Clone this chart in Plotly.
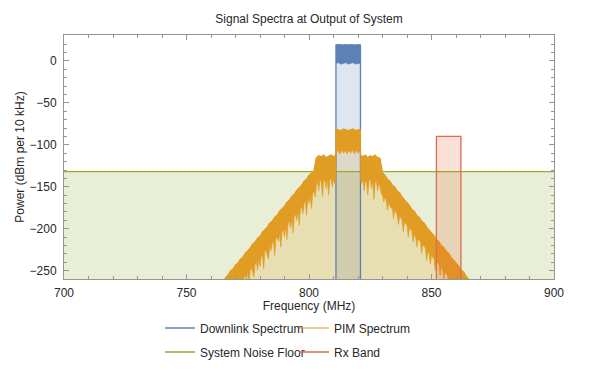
import plotly.graph_objects as go

# ---------------- data ----------------
freq_range = [700, 900]
power_range = [-260, 31]
fill_base = -300  # fills run down past the bottom of the frame

# Downlink spectrum (dense noisy band at the top of the carrier)
dl_freq = [811, 812, 813, 814, 815, 816, 817, 818, 819, 820, 821]
dl_upper = [19, 19.5, 19, 19, 19.5, 19, 19.5, 19, 19, 19.5, 19]
dl_lower = [-3, -2, -4, -3, -2, -4, -3, -2, -4, -3, -3]

# PIM spectrum: upper edge of the noisy orange band
pim_freq = [765, 766, 767, 768, 769, 770, 771, 772, 773, 774,
            775, 776, 777, 778, 779, 780, 781, 782, 783, 784,
            785, 786, 787, 788, 789, 790, 791, 792, 793, 794,
            795, 796, 797, 798, 799, 800, 801, 802, 803, 804,
            805, 806, 807, 808, 809, 810, 811, 811, 812, 813,
            814, 815, 816, 817, 818, 819, 820, 821, 821, 822,
            823, 824, 825, 826, 827, 828, 829, 830, 831, 832,
            833, 834, 835, 836, 837, 838, 839, 840, 841, 842,
            843, 844, 845, 846, 847, 848, 849, 850, 851, 852,
            853, 854, 855, 856, 857, 858, 859, 860, 861, 862,
            863, 864, 865, 866]
pim_upper = [-263, -258, -255, -250, -248, -243, -241, -236, -234, -229,
             -226, -223, -218, -216, -211, -209, -204, -201, -198, -193,
             -191, -186, -184, -179, -176, -173, -168, -166, -161, -159,
             -154, -151, -148, -143, -141, -136, -134, -131, -115, -113,
             -114, -112, -115, -113, -112, -114, -112, -82, -82, -83,
             -81, -82, -83, -82, -81, -83, -82, -82, -112, -114,
             -112, -115, -113, -114, -112, -115, -116, -133, -136, -141,
             -143, -148, -150, -155, -157, -162, -165, -169, -172, -177,
             -179, -184, -186, -191, -193, -198, -201, -205, -208, -213,
             -215, -220, -222, -227, -229, -234, -237, -241, -244, -249,
             -251, -256, -259, -263]

# PIM spectrum: lower (spiky) edge of the orange band
pim_low_freq = [765.0, 765.5, 766.0, 766.5, 767.0, 767.5, 768.0, 768.5, 769.0, 769.5,
                770.0, 770.5, 771.0, 771.5, 772.0, 772.5, 773.0, 773.5, 774.0, 774.5,
                775.0, 775.5, 776.0, 776.5, 777.0, 777.5, 778.0, 778.5, 779.0, 779.5,
                780.0, 780.5, 781.0, 781.5, 782.0, 782.5, 783.0, 783.5, 784.0, 784.5,
                785.0, 785.5, 786.0, 786.5, 787.0, 787.5, 788.0, 788.5, 789.0, 789.5,
                790.0, 790.5, 791.0, 791.5, 792.0, 792.5, 793.0, 793.5, 794.0, 794.5,
                795.0, 795.5, 796.0, 796.5, 797.0, 797.5, 798.0, 798.5, 799.0, 799.5,
                800.0, 800.5, 801.0, 801.5, 802.0, 802.5, 803.0, 803.5, 804.0, 804.5,
                805.0, 805.5, 806.0, 806.5, 807.0, 807.5, 808.0, 808.5, 809.0, 809.5,
                810.0, 810.5, 811.0, 811.0, 811.5, 812.0, 812.5, 813.0, 813.5, 814.0,
                814.5, 815.0, 815.5, 816.0, 816.5, 817.0, 817.5, 818.0, 818.5, 819.0,
                819.5, 820.0, 820.5, 821.0, 821.0, 821.5, 822.0, 822.5, 823.0, 823.5,
                824.0, 824.5, 825.0, 825.5, 826.0, 826.5, 827.0, 827.5, 828.0, 828.5,
                829.0, 829.5, 830.0, 830.5, 831.0, 831.5, 832.0, 832.5, 833.0, 833.5,
                834.0, 834.5, 835.0, 835.5, 836.0, 836.5, 837.0, 837.5, 838.0, 838.5,
                839.0, 839.5, 840.0, 840.5, 841.0, 841.5, 842.0, 842.5, 843.0, 843.5,
                844.0, 844.5, 845.0, 845.5, 846.0, 846.5, 847.0, 847.5, 848.0, 848.5,
                849.0, 849.5, 850.0, 850.5, 851.0, 851.5, 852.0, 852.5, 853.0, 853.5,
                854.0, 854.5, 855.0, 855.5, 856.0, 856.5, 857.0, 857.5, 858.0, 858.5,
                859.0, 859.5, 860.0, 860.5, 861.0, 861.5, 862.0, 862.5, 863.0, 863.5,
                864.0, 864.5, 865.0, 865.5, 866.0]
pim_lower = [-292, -289, -286, -290, -283, -280, -285, -276, -274, -288,
             -271, -268, -270, -265, -279, -262, -276, -258, -256, -260,
             -252, -268, -250, -247, -252, -258, -242, -240, -249, -236,
             -245, -233, -231, -248, -227, -225, -233, -236, -220, -226,
             -217, -215, -232, -212, -210, -215, -206, -222, -203, -201,
             -210, -197, -213, -193, -192, -199, -188, -205, -185, -183,
             -190, -179, -196, -176, -174, -182, -170, -168, -184, -165,
             -170, -161, -176, -158, -156, -162, -150, -142, -155, -140,
             -145, -162, -141, -143, -152, -141, -160, -142, -140, -150,
             -141, -146, -140, -109, -108, -107, -111, -108, -106, -110,
             -108, -107, -111, -108, -107, -110, -108, -106, -111, -108,
             -107, -110, -108, -108, -142, -146, -141, -155, -142, -145,
             -160, -143, -141, -152, -144, -165, -145, -143, -155, -146,
             -150, -158, -160, -168, -163, -165, -178, -169, -171, -176,
             -174, -188, -178, -180, -184, -195, -185, -187, -190, -204,
             -192, -194, -196, -210, -199, -201, -203, -216, -207, -209,
             -222, -212, -214, -216, -230, -219, -221, -223, -238, -228,
             -229, -242, -232, -234, -236, -250, -239, -241, -243, -256,
             -246, -248, -262, -252, -254, -256, -268, -259, -261, -263,
             -275, -266, -268, -270, -272, -273, -280, -277, -279, -284,
             -282, -284, -286, -288, -290]

# System noise floor and receive band
noise_floor = -132
rx_band = [852, 862]
rx_level = -90

x_ticks = [700, 750, 800, 850, 900]
y_ticks = [0, -50, -100, -150, -200, -250]

# ---------------- styling ----------------
BLUE = "rgb(94,129,181)"
ORANGE = "rgb(225,156,36)"
GREEN = "rgb(143,176,50)"
RED = "rgb(218,108,80)"
BLUE_F = "rgba(94,129,181,0.2)"
ORANGE_F = "rgba(225,156,36,0.2)"
GREEN_F = "rgba(143,176,50,0.2)"
RED_F = "rgba(235,98,53,0.2)"
FONT = "Liberation Sans, Arial, sans-serif"
TXT = "rgb(40,40,40)"
FRAME = "rgb(150,150,150)"

fig = go.Figure()

# noise floor fill
fig.add_trace(go.Scatter(
    x=[freq_range[0], freq_range[1], freq_range[1], freq_range[0]],
    y=[noise_floor, noise_floor, fill_base, fill_base],
    fill="toself", fillcolor=GREEN_F, mode="none",
    showlegend=False, hoverinfo="skip"))

# downlink outline coordinates (carrier rises from below the frame)
dl_x = [dl_freq[0]] + dl_freq + [dl_freq[-1]]
dl_y = [fill_base] + dl_upper + [fill_base]

fig.add_trace(go.Scatter(x=dl_x, y=dl_y, fill="toself", fillcolor=BLUE_F,
                         mode="none", showlegend=False, hoverinfo="skip"))

# PIM light fill
pim_x = pim_freq + [pim_freq[-1], pim_freq[0]]
pim_y = pim_upper + [fill_base, fill_base]
fig.add_trace(go.Scatter(x=pim_x, y=pim_y, fill="toself", fillcolor=ORANGE_F,
                         mode="none", showlegend=False, hoverinfo="skip"))

# noise floor line
fig.add_trace(go.Scatter(
    x=freq_range, y=[noise_floor, noise_floor], mode="lines",
    line=dict(color=GREEN, width=1.3), name="System Noise Floor",
    legend="legend2"))

# downlink line + dark noisy band
fig.add_trace(go.Scatter(x=dl_x, y=dl_y, mode="lines",
                         line=dict(color=BLUE, width=1.3),
                         name="Downlink Spectrum", legend="legend"))
fig.add_trace(go.Scatter(x=dl_freq + dl_freq[::-1], y=dl_upper + dl_lower[::-1],
                         fill="toself", fillcolor=BLUE, mode="lines",
                         line=dict(color=BLUE, width=0.5),
                         showlegend=False, hoverinfo="skip"))

# PIM orange band
fig.add_trace(go.Scatter(x=pim_freq + pim_low_freq[::-1],
                         y=pim_upper + pim_lower[::-1],
                         fill="toself", fillcolor=ORANGE, mode="lines",
                         line=dict(color=ORANGE, width=0.6),
                         showlegend=False, hoverinfo="skip"))
fig.add_trace(go.Scatter(x=pim_freq, y=pim_upper, mode="lines",
                         line=dict(color=ORANGE, width=1),
                         name="PIM Spectrum", legend="legend"))

# Rx band
rx_x = [rx_band[0], rx_band[0], rx_band[1], rx_band[1]]
rx_y = [fill_base, rx_level, rx_level, fill_base]
fig.add_trace(go.Scatter(x=rx_x, y=rx_y, fill="toself", fillcolor=RED_F,
                         mode="none", showlegend=False, hoverinfo="skip"))
fig.add_trace(go.Scatter(x=rx_x, y=rx_y, mode="lines",
                         line=dict(color=RED, width=1.3),
                         name="Rx Band", legend="legend2"))

axis_common = dict(
    showline=True, linecolor=FRAME, linewidth=1, mirror="ticks",
    ticks="inside", ticklen=5, tickcolor=FRAME, tickwidth=1,
    showgrid=False, zeroline=False, automargin=False,
    tickfont=dict(family=FONT, size=12, color=TXT),
)

fig.update_layout(
    width=600, height=386,
    margin=dict(l=64, r=46, t=35, b=107),
    plot_bgcolor="white", paper_bgcolor="white",
    font=dict(family=FONT, size=12, color=TXT),
    title=dict(text="Signal Spectra at Output of System",
               x=0.515, xanchor="center", y=1 - 19 / 386, yanchor="middle",
               font=dict(family=FONT, size=12, color=TXT)),
    xaxis=dict(range=freq_range, tickvals=x_ticks, ticklabelstandoff=3,
               minor=dict(ticks="inside", ticklen=3, dtick=10,
                          tickcolor=FRAME, showgrid=False),
               title=dict(text="Frequency (MHz)", standoff=8,
                          font=dict(family=FONT, size=12, color=TXT)),
               **axis_common),
    yaxis=dict(range=power_range, tickvals=y_ticks, ticklabelstandoff=4,
               minor=dict(ticks="inside", ticklen=3, dtick=10,
                          tickcolor=FRAME, showgrid=False),
               title=dict(text="Power (dBm per 10 kHz)", standoff=2,
                          font=dict(family=FONT, size=12, color=TXT)),
               **axis_common),
    legend=dict(orientation="h", xref="container", yref="container",
                x=160 / 600, xanchor="left", y=1 - 328 / 386, yanchor="middle",
                entrywidth=89, bgcolor="rgba(0,0,0,0)",
                font=dict(family=FONT, size=12, color=TXT)),
    legend2=dict(orientation="h", xref="container", yref="container",
                 x=160 / 600, xanchor="left", y=1 - 352 / 386, yanchor="middle",
                 entrywidth=89, bgcolor="rgba(0,0,0,0)",
                 font=dict(family=FONT, size=12, color=TXT)),
)

fig.write_html("out.html", config={"displayModeBar": False},
               post_script="document.body.style.margin='0';")
